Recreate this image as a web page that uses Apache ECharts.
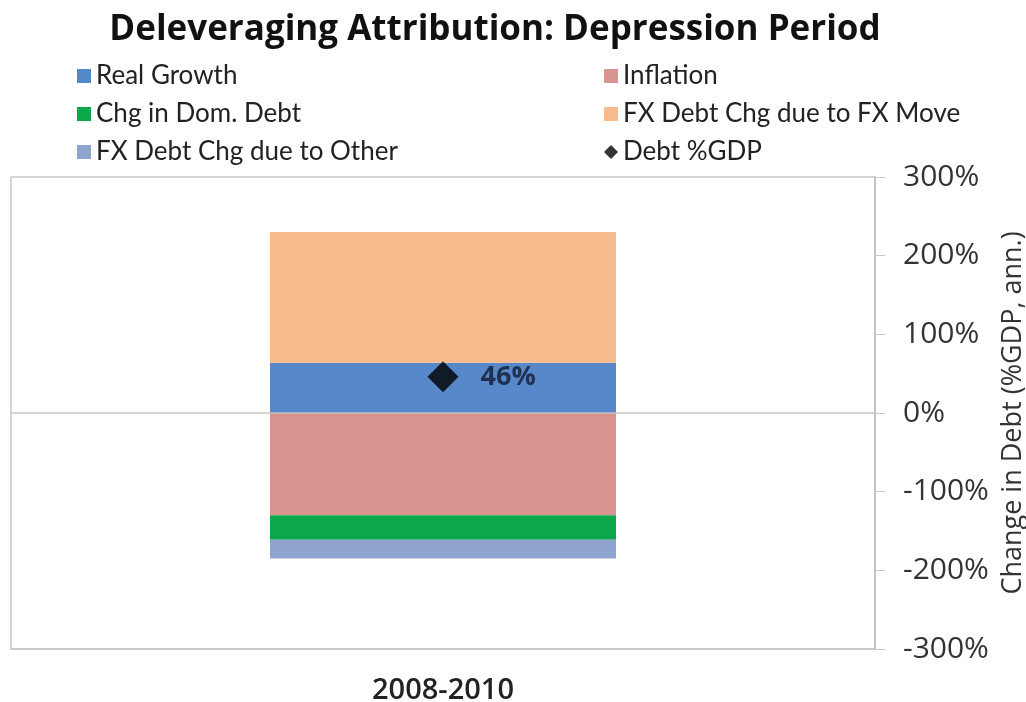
<!DOCTYPE html>
<html>
<head>
<meta charset="utf-8">
<script src="https://cdn.jsdelivr.net/npm/echarts@6/dist/echarts.min.js"></script>
<style>
  html, body { margin: 0; padding: 0; background: #fff; }
  #chart { width: 1026px; height: 702px; }
</style>
</head>
<body>
<div id="chart"></div>
<script>
var categories = ['2008-2010'];
var realGrowth = [64];
var inflation = [-130];
var domDebt = [-31];
var fxMove = [166];
var fxOther = [-24];
var debtGdp = [46];
var yTicks = [-300, -200, -100, 0, 100, 200, 300];

var chart = echarts.init(document.getElementById('chart'));

var legendFont = { fontFamily: 'Lato', fontSize: 26, color: '#222' };

var option = {
  animation: false,
  title: {
    text: 'Deleveraging Attribution: Depression Period',
    left: 490,
    textAlign: 'center',
    top: 8,
    textStyle: { fontFamily: 'Open Sans', fontWeight: 'bold', fontSize: 35, color: '#111' }
  },
  legend: [{
    orient: 'vertical',
    left: 72,
    top: 58,
    itemGap: 12,
    itemWidth: 14,
    itemHeight: 14,
    textStyle: legendFont,
    data: [
      { name: 'Real Growth', icon: 'rect' },
      { name: 'Chg in Dom. Debt', icon: 'rect' },
      { name: 'FX Debt Chg due to Other', icon: 'rect' }
    ]
  }, {
    orient: 'vertical',
    left: 599,
    top: 58,
    itemGap: 12,
    itemWidth: 14,
    itemHeight: 14,
    textStyle: legendFont,
    data: [
      { name: 'Inflation', icon: 'rect' },
      { name: 'FX Debt Chg due to FX Move', icon: 'rect' },
      { name: 'Debt %GDP', icon: 'diamond' }
    ]
  }],
  grid: {
    left: 11, right: 151, top: 177, bottom: 53,
    outerBoundsMode: 'none',
    containLabel: false,
    show: true, borderColor: '#c8c8c8', borderWidth: 1.5
  },
  xAxis: {
    type: 'category',
    data: categories,
    axisLine: { onZero: false, lineStyle: { color: '#c8c8c8', width: 1.5 } },
    axisTick: { show: false },
    axisLabel: { margin: 27, fontFamily: 'Open Sans', fontWeight: 600, fontSize: 29, color: '#222' }
  },
  yAxis: {
    type: 'value',
    position: 'right',
    min: yTicks[0],
    max: yTicks[yTicks.length - 1],
    interval: 100,
    splitLine: { show: false },
    axisLine: { show: true, lineStyle: { color: '#bdbdbd', width: 1.5 } },
    axisTick: { show: true, length: 10, lineStyle: { color: '#c8c8c8' } },
    axisLabel: {
      margin: 28,
      formatter: '{value}%',
      fontFamily: 'Open Sans', fontSize: 30, color: '#333'
    },
    name: 'Change in Debt (%GDP, ann.)',
    nameLocation: 'middle',
    nameRotate: 90,
    nameGap: 122,
    nameTextStyle: { fontFamily: 'Open Sans', fontSize: 27, color: '#333', padding: [0, 0, 28, 0] }
  },
  series: [
    {
      name: 'Real Growth', type: 'bar', stack: 'total', data: realGrowth,
      barWidth: 346, itemStyle: { color: '#5788c9' },
      markLine: {
        silent: true, symbol: 'none', label: { show: false },
        lineStyle: { color: '#c4c4c4', width: 1.5, type: 'solid' },
        data: [{ yAxis: 0 }]
      }
    },
    { name: 'FX Debt Chg due to FX Move', type: 'bar', stack: 'total', data: fxMove, itemStyle: { color: '#f6bc8e' } },
    { name: 'Inflation', type: 'bar', stack: 'total', data: inflation, itemStyle: { color: '#d8948f' } },
    { name: 'Chg in Dom. Debt', type: 'bar', stack: 'total', data: domDebt, itemStyle: { color: '#0ca84b' } },
    { name: 'FX Debt Chg due to Other', type: 'bar', stack: 'total', data: fxOther, itemStyle: { color: '#8fa5cf' } },
    {
      name: 'Debt %GDP', type: 'scatter', data: debtGdp,
      symbol: 'diamond', symbolSize: [31, 31], z: 5,
      itemStyle: { color: '#000' },
      label: {
        show: true, position: 'right', distance: 22,
        formatter: '{c}%',
        fontFamily: 'Open Sans', fontWeight: 'bold', fontSize: 27, color: '#141a33'
      }
    }
  ]
};

chart.setOption(option);
</script>
</body>
</html>
